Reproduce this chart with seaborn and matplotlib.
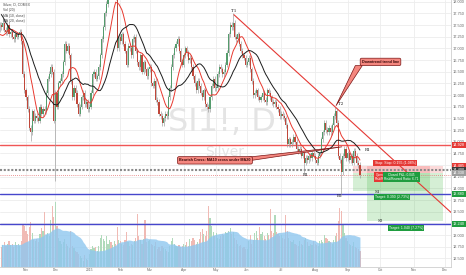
import numpy as np
import pandas as pd
import matplotlib
matplotlib.use("Agg")
import matplotlib.pyplot as plt
import matplotlib.transforms as mtransforms
from matplotlib.patches import Rectangle, Polygon
import seaborn as sns

# ---------------- data: daily closes (SI1!, COMEX silver) ----------------
close_sep14 = [18.55, 18.60, 18.70, 18.45, 18.55, 17.85, 17.80, 17.85, 17.70, 17.60,
               17.65, 17.20, 17.05, 16.95, 17.10, 17.30, 17.25, 17.40, 17.50]
close_oct14 = [17.45, 17.55, 17.40, 17.35, 17.50, 17.30, 17.35, 17.25, 17.20, 17.30,
               17.25, 17.30, 17.35, 17.15, 16.45, 16.10]
close_nov14 = [15.95, 15.70, 15.30, 15.20, 15.65, 15.45, 15.55, 15.50, 15.45, 15.75,
               15.60, 15.70, 15.65, 16.05, 16.35, 16.45, 16.60, 16.50, 15.45]
close_dec14 = [16.05, 15.75, 16.25, 16.30, 16.45, 16.70, 17.10, 16.95, 17.05, 16.85,
               16.30, 15.95, 16.15, 16.05, 15.80, 15.60, 15.75, 15.95, 16.05, 15.80,
               15.85, 15.70]
close_jan15 = [15.75, 16.05, 16.45, 16.50, 16.35, 16.40, 16.60, 16.85, 17.20, 17.45,
               17.75, 17.95, 18.20, 18.35, 18.20, 18.30, 18.40, 18.10, 17.00, 17.25]
close_feb15 = [17.15, 17.30, 17.10, 16.95, 16.65, 17.05, 17.00, 16.85, 17.20, 17.25,
               16.95, 16.70, 16.60, 16.85, 16.50, 16.70, 16.55, 16.40, 16.55]
close_mar15 = [16.60, 16.25, 16.20, 16.30, 15.90, 15.85, 15.60, 15.55, 15.40, 15.50,
               15.60, 15.55, 15.95, 16.15, 16.60, 16.85, 17.00, 17.10, 17.20, 16.95,
               16.70, 16.65]
close_apr15 = [16.85, 17.00, 16.90, 16.75, 16.80, 16.60, 16.40, 16.25, 16.10, 16.30,
               16.20, 16.05, 15.95, 16.10, 15.80, 15.75, 15.70, 15.95, 16.20, 16.35,
               16.15]
close_may15 = [16.15, 16.45, 16.60, 16.55, 16.45, 16.50, 16.65, 16.90, 17.30, 17.50,
               17.45, 17.55, 17.25, 17.20, 17.30, 17.10, 16.95, 16.85, 16.80, 16.65]
close_jun15 = [16.70, 16.80, 16.55, 16.30, 16.00, 16.05, 16.10, 15.95, 15.90, 15.95,
               16.05, 15.90, 15.85, 16.10, 16.05, 15.95, 15.85, 15.80, 15.85, 15.75,
               15.70, 15.55]
close_jul15 = [15.60, 15.55, 15.50, 15.35, 14.95, 15.05, 14.95, 15.00, 15.10, 15.00,
               14.85, 14.80, 14.85, 14.70, 14.75, 14.55, 14.65, 14.60, 14.70, 14.65,
               14.75, 14.70]
close_aug15 = [14.60, 14.55, 14.70, 14.75, 15.05, 15.20, 15.40, 15.25, 15.20, 15.30,
               15.20, 15.35, 15.55, 15.65, 15.40, 14.70, 14.60, 14.35, 14.70, 14.85,
               14.65]
close_sep15 = [14.75, 14.60, 14.70, 14.55, 14.80, 14.70, 14.55, 14.50, 14.28]

# daily volume (thousand contracts)
vol_sep14 = [40, 38, 42, 36, 44, 40, 34, 38, 42, 40, 36, 38, 34, 42, 40, 38, 36, 40, 38]
vol_oct14 = [34, 38, 42, 36, 40, 44, 37, 39, 34, 42, 38, 40, 36, 44, 74, 70]
vol_nov14 = [62, 56, 68, 76, 58, 46, 44, 48, 42, 56, 66, 62, 94, 54, 58, 52, 80, 104, 86]
vol_dec14 = [110, 70, 50, 44, 40, 42, 48, 40, 36, 32, 62, 36, 32, 28, 26, 22, 18, 16,
             10, 20, 14, 12]
vol_jan15 = [22, 30, 36, 32, 34, 28, 36, 50, 54, 48, 44, 52, 40, 46, 42, 38, 44, 40, 68, 46]
vol_feb15 = [44, 40, 38, 46, 60, 42, 36, 40, 38, 44, 50, 90, 52, 46, 40, 48, 80, 42, 44]
vol_mar15 = [46, 40, 38, 36, 42, 30, 34, 28, 36, 32, 30, 28, 26, 36, 44, 50, 40, 36, 34,
             38, 34, 36]
vol_apr15 = [40, 38, 42, 36, 48, 44, 50, 46, 40, 42, 48, 60, 64, 56, 52, 62, 104, 84, 70,
             60, 52]
vol_may15 = [58, 50, 48, 52, 56, 54, 60, 58, 62, 66, 56, 60, 50, 46, 40, 36, 38, 32, 34, 30]
vol_jun15 = [30, 44, 54, 40, 46, 58, 62, 50, 68, 56, 60, 52, 48, 58, 54, 98, 62, 58, 88,
             60, 56, 52]
vol_jul15 = [54, 50, 48, 88, 62, 50, 44, 42, 46, 40, 38, 36, 44, 40, 38, 46, 50, 42, 36,
             40, 38, 44]
vol_aug15 = [40, 38, 36, 44, 46, 42, 54, 50, 48, 44, 42, 40, 46, 52, 58, 78, 100, 96, 74,
             58, 50]
vol_sep15 = [44, 40, 38, 36, 42, 34, 32, 30, 28]

# notable wick extremes (bar index -> price)
spike_lows = {19: 15.02, 35: 14.15, 196: 14.30, 220: 13.85}
spike_highs = {71: 18.45, 150: 17.75, 216: 15.75}

holidays = ["2014-11-27", "2014-12-25", "2015-01-01", "2015-01-19", "2015-02-16",
            "2015-04-03", "2015-05-25", "2015-07-03", "2015-09-07", "2015-11-26"]
month_labels = ["Nov", "Dec", "2015", "Feb", "Mar", "Apr", "May", "Jun", "Jul",
                "Aug", "Sep", "Oct", "Nov", "Dec"]
price_ticks = [12.5, 12.75, 13.0, 13.25, 13.5, 13.75, 14.0, 14.25, 14.5, 14.75,
               15.0, 15.25, 15.5, 15.75, 16.0, 16.25, 16.5, 16.75, 17.0, 17.25,
               17.5, 17.75, 18.0]

# drawings
r1_level = 14.928
s1_level = 13.88
s2_level = 13.24
b1_level = 14.40
entry_price = 14.33
stop_price = 14.485
target1 = 13.94
target2 = 13.29
trend_t1 = (150.5, 17.72)
trend_t2 = (217.8, 15.69)
pos_a = (227.5, 277.3)
pos_b = (236.5, 285.7)
axis_tags = [(14.928, "#e53935"), (14.485, "#e53935"), (14.400, "#3a3a3a"),
             (14.330, "#9e9e9e"), (13.880, "#1f9d3f"), (13.240, "#1f9d3f")]
point_labels = [("T1", 150.5, 17.80), ("T2", 219.5, 15.80), ("R1", 237.2, 14.83),
                ("B1", 197.1, 14.29), ("B2", 219.1, 13.83), ("S1", 243.0, 13.93),
                ("S2", 245.0, 13.29)]

# ---------------- prep ----------------
sns.set_theme(style="white")
plt.rcParams["font.family"] = ["Liberation Sans", "DejaVu Sans"]

closes = (close_sep14 + close_oct14 + close_nov14 + close_dec14 + close_jan15 +
          close_feb15 + close_mar15 + close_apr15 + close_may15 + close_jun15 +
          close_jul15 + close_aug15 + close_sep15)
volumes = (vol_sep14 + vol_oct14 + vol_nov14 + vol_dec14 + vol_jan15 + vol_feb15 +
           vol_mar15 + vol_apr15 + vol_may15 + vol_jun15 + vol_jul15 + vol_aug15 +
           vol_sep15)

n_prior = len(close_sep14)
days = pd.bdate_range("2014-09-15", "2015-12-31", freq="C", holidays=holidays)
bar_pos = np.arange(len(days)) - n_prior
df = pd.DataFrame({"x": bar_pos[:len(closes)], "close": closes, "vol": volumes})
df["open"] = df["close"].shift(1).fillna(df["close"])
wick = 0.06
df["high"] = df[["open", "close"]].max(axis=1) + wick
df["low"] = df[["open", "close"]].min(axis=1) - wick
for k, v in spike_lows.items():
    df.loc[df.x == k, "low"] = v
for k, v in spike_highs.items():
    df.loc[df.x == k, "high"] = v
df["ma10"] = df["close"].rolling(10).mean()
df["ma20"] = df["close"].rolling(20).mean()
df["vma"] = df["vol"].rolling(20).mean()
df["up"] = df["close"] >= df["open"]
vis = df[df.x >= -1]

month_pos = []
for p in pd.period_range("2014-11", "2015-12", freq="M"):
    idx = np.flatnonzero((days.year == p.year) & (days.month == p.month))[0]
    month_pos.append(idx - n_prior)

# ---------------- figure ----------------
fig = plt.figure(figsize=(4.66, 2.75), dpi=100)
rect = [0.0, 8 / 275, 451 / 466, 267 / 275]
axv = fig.add_axes(rect)
ax = fig.add_axes(rect, sharex=axv)
ax.patch.set_alpha(0)

xmin, xmax = -0.84, 290.9
pmin, pmax = 12.315, 18.036
vmax = 455
axv.set_xlim(xmin, xmax)
axv.set_ylim(0, vmax)
ax.set_ylim(pmin, pmax)


def p2v(p):
    return (p - pmin) / (pmax - pmin) * vmax


grid_c = "#ededed"
for xm in month_pos:
    axv.axvline(xm, color=grid_c, lw=0.6, zorder=0)
for p in price_ticks:
    axv.axhline(p2v(p), color=grid_c, lw=0.6, zorder=0)

# volume
axv.bar(vis.x, vis.vol, width=0.75, color=np.where(vis.up, "#b0dabb", "#f0bab4"),
        lw=0, zorder=2)
axv.fill_between(df.x, 0, df.vma, color="#8fc7ef", alpha=0.8, lw=0, zorder=3)

# watermark
ax.text(142.8, 15.42, "SI1!, D", fontsize=23, color="#e4e4e4", ha="center",
        va="center", zorder=1, family="DejaVu Sans")
ax.text(144.7, 14.78, "Silver", fontsize=10, color="#e4e4e4", ha="center",
        va="center", zorder=1, family="DejaVu Sans")

# horizontal drawings
ax.axhline(r1_level, color="#f05656", lw=1.0, zorder=3)
ax.axhline(s1_level, color="#4646cc", lw=1.0, zorder=3)
ax.axhline(s2_level, color="#4646cc", lw=1.0, zorder=3)
ax.axhline(b1_level, color="#8a8a8a", lw=1.5, ls=(0, (1.0, 0.8)), zorder=3)
ax.axhline(closes[-1], color="#e57373", lw=0.6, ls=(0, (1.0, 1.5)), zorder=3)

# position tool zones
for (x0, x1), tgt in ((pos_a, target1), (pos_b, target2)):
    ax.add_patch(Rectangle((x0, entry_price), x1 - x0, stop_price - entry_price,
                           fc=(0.95, 0.35, 0.35, 0.22), lw=0, zorder=2))
    ax.add_patch(Rectangle((x0, tgt), x1 - x0, entry_price - tgt,
                           fc=(0.25, 0.72, 0.25, 0.22), lw=0, zorder=2))

# candles
ax.vlines(vis.x, vis.low, vis.high, color="#9a9a9a", lw=0.45, zorder=4)
body_lo = vis[["open", "close"]].min(axis=1)
body_h = (vis.close - vis.open).abs().clip(lower=0.015)
ax.bar(vis.x, body_h, bottom=body_lo, width=0.72,
       color=np.where(vis.up, "#559c6d", "#c0473a"), lw=0, zorder=5)

# moving averages
sns.lineplot(data=df, x="x", y="ma10", ax=ax, color="#e8392f", lw=0.7, zorder=6)
sns.lineplot(data=df, x="x", y="ma20", ax=ax, color="#1c1c1c", lw=0.7, zorder=6)

# downtrend line
slope = (trend_t2[1] - trend_t1[1]) / (trend_t2[0] - trend_t1[0])
ax.plot([trend_t1[0], xmax], [trend_t1[1], trend_t1[1] + slope * (xmax - trend_t1[0])],
        color="#e53935", lw=0.8, zorder=6)

# point labels
for t, xx, yy in point_labels:
    ax.text(xx, yy, t, fontsize=3.0, family="DejaVu Serif", color="#1a1a1a",
            ha="center", va="center", zorder=8)

# callouts
call_fc, call_ec = "#f4877f", "#7a1414"
ax.add_patch(Polygon([(229.0, 16.63), (233.5, 16.63), (216.5, 15.77)], closed=True,
                     fc=call_fc, ec=call_ec, lw=0.5, zorder=8))
ax.text(245.3, 16.71, "Downtrend trend line", fontsize=2.7, weight="bold",
        color="#3b0a0a", ha="center", va="center", zorder=9,
        bbox=dict(boxstyle="round,pad=0.45,rounding_size=0.4", fc=call_fc,
                  ec=call_ec, lw=0.5))
ax.add_patch(Polygon([(160.0, 14.67), (160.0, 14.59), (220.4, 14.89)], closed=True,
                     fc=call_fc, ec=call_ec, lw=0.5, zorder=8))
ax.text(138.2, 14.60, "Bearish Cross: MA10 cross under MA20", fontsize=2.7,
        weight="bold", color="#3b0a0a", ha="center", va="center", zorder=9,
        bbox=dict(boxstyle="round,pad=0.45,rounding_size=0.4", fc=call_fc,
                  ec=call_ec, lw=0.5))

# position labels
ax.text(254.7, 14.535, "Stop: Stop: 0.155 (1.08%)", fontsize=2.5, color="white",
        ha="center", va="center", zorder=9,
        bbox=dict(boxstyle="square,pad=0.3", fc="#e53935", ec="none"))
ax.text(247.6, 14.235, "Open\nRisk/R", fontsize=2.3, color="white", ha="right",
        va="center", zorder=9, linespacing=1.0,
        bbox=dict(boxstyle="square,pad=0.3", fc="#e53935", ec="none"))
ax.text(258.9, 14.235, "Closed P&L: 0.045\nRisk/Reward Ratio: 6.71", fontsize=2.3,
        color="white", ha="center", va="center", zorder=10, linespacing=1.0,
        bbox=dict(boxstyle="square,pad=0.3", fc="#1f9d3f", ec="none"))
ax.text(252.7, 13.82, "Target: 0.390 (2.73%)", fontsize=2.5, color="white",
        ha="center", va="center", zorder=9,
        bbox=dict(boxstyle="square,pad=0.3", fc="#1f9d3f", ec="none"))
ax.text(261.8, 13.15, "Target: 1.040 (7.27%)", fontsize=2.5, color="white",
        ha="center", va="center", zorder=9,
        bbox=dict(boxstyle="square,pad=0.3", fc="#1f9d3f", ec="none"))

# legend text
legend_lines = ["Silver, D, COMEX", "Vol (20)", "MA (10, close)", "MA (20, close)"]
for i, t in enumerate(legend_lines):
    ax.text(3 / 451, 1 - (5 + 5.4 * i) / 267, t, transform=ax.transAxes,
            fontsize=2.4, color="#444444", va="center", ha="left", zorder=9)

# axes cosmetics
ax.set_xlim(xmin, xmax)
ax.set_xlabel("")
ax.set_ylabel("")
ax.yaxis.tick_right()
ax.set_yticks(price_ticks)
ax.set_yticklabels([f"{p:.3f}" for p in price_ticks])
ax.tick_params(axis="y", length=0, pad=1.5, labelsize=2.8, labelcolor="#666666")
ax.set_xticks(month_pos)
ax.set_xticklabels(month_labels)
ax.tick_params(axis="x", length=0, pad=0.9, labelsize=2.4, labelcolor="#666666")
axv.tick_params(labelbottom=False, labelleft=False, left=False, bottom=False)
for s in ["top", "left"]:
    ax.spines[s].set_visible(False)
for s in ["right", "bottom"]:
    ax.spines[s].set_color("#cfcfcf")
    ax.spines[s].set_linewidth(0.6)
for s in axv.spines.values():
    s.set_visible(False)

blend = mtransforms.blended_transform_factory(ax.transAxes, ax.transData)
for val, col in axis_tags:
    ax.text(1.004, val, f"{val:.3f}", transform=blend, fontsize=2.8, color="white",
            ha="left", va="center", clip_on=False, zorder=10,
            bbox=dict(boxstyle="square,pad=0.25", fc=col, ec="none"))

fig.savefig("out.png", dpi=100)
